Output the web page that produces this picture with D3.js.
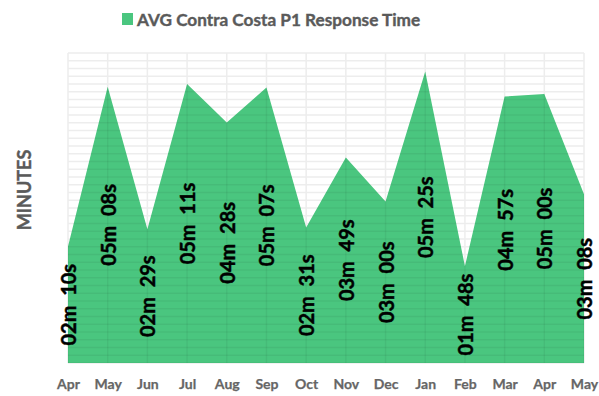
<!DOCTYPE html>
<html>
<head>
<meta charset="utf-8">
<script src="https://cdn.jsdelivr.net/npm/d3@7/dist/d3.min.js"></script>
<style>
  html, body { margin: 0; padding: 0; background: #fff; }
  svg { display: block; }
  text { font-family: Lato, "Open Sans", "DejaVu Sans", sans-serif; }
</style>
</head>
<body>
<svg id="chart" width="599" height="396"></svg>
<script>
// Monthly average P1 response time, in seconds
const months = ["Apr", "May", "Jun", "Jul", "Aug", "Sep", "Oct", "Nov", "Dec", "Jan", "Feb", "Mar", "Apr", "May"];
const responseSeconds = [130, 308, 149, 311, 268, 307, 151, 229, 180, 325, 108, 297, 300, 188];
const seriesName = "AVG Contra Costa P1 Response Time";
const axisTitle = "MINUTES";
// Value axis runs in fractions of a day: 0.0001 day per gridline, up to 0.004 day
const gridStepSeconds = 8.64;
const axisMaxSeconds = 345.6;

const green = "#4ac67f";
const svg = d3.select("#chart");
const margin = { left: 68, right: 15, top: 53, bottom: 33 };
const W = 599, H = 396;

const keys = months.map((m, i) => i);
const x = d3.scalePoint().domain(keys).range([margin.left, W - margin.right]).padding(0);
const y = d3.scaleLinear().domain([0, axisMaxSeconds]).range([H - margin.bottom, margin.top]);

const fmt = s => {
  const m = Math.floor(s / 60), r = s % 60;
  return String(m).padStart(2, "0") + "m  " + String(r).padStart(2, "0") + "s";
};

const hTicks = d3.range(0, axisMaxSeconds + 0.001, gridStepSeconds);

function drawGrid(g, color, opacity) {
  g.selectAll("line.h").data(hTicks).enter().append("line")
    .attr("class", "h")
    .attr("x1", x(0)).attr("x2", x(keys.length - 1))
    .attr("y1", d => y(d)).attr("y2", d => y(d))
    .attr("stroke", color).attr("stroke-opacity", opacity).attr("stroke-width", 1.5);
  g.selectAll("line.v").data(keys).enter().append("line")
    .attr("class", "v")
    .attr("x1", d => x(d)).attr("x2", d => x(d))
    .attr("y1", y(0)).attr("y2", y(axisMaxSeconds))
    .attr("stroke", color).attr("stroke-opacity", opacity).attr("stroke-width", 1.5);
}

// gridlines on the white background
drawGrid(svg.append("g"), "#ededed", 1);

// area
const area = d3.area()
  .x((d, i) => x(i))
  .y0(y(0))
  .y1(d => y(d));
const areaPath = area(responseSeconds);
svg.append("path")
  .attr("d", areaPath)
  .attr("fill", green);

// gridlines showing faintly through the filled area
svg.append("clipPath").attr("id", "areaClip")
  .append("path").attr("d", areaPath);
drawGrid(svg.append("g").attr("clip-path", "url(#areaClip)"), "#000", 0.05);

// value labels, centered vertically within each column of the area
svg.append("g").selectAll("text").data(responseSeconds).enter().append("text")
  .attr("transform", (d, i) => `translate(${x(i)},${y(d / 2)}) rotate(-90)`)
  .attr("text-anchor", "middle")
  .attr("dominant-baseline", "central")
  .attr("font-size", 20)
  .attr("font-weight", 700)
  .attr("fill", "#000")
  .attr("stroke", "#000")
  .attr("stroke-width", 0.45)
  .style("white-space", "pre")
  .text(d => fmt(d));

// category axis
const xAxis = d3.axisBottom(x).tickSize(0).tickFormat(i => months[i]);
const gx = svg.append("g")
  .attr("transform", `translate(0,${y(0)})`)
  .call(xAxis);
gx.select(".domain").remove();
gx.selectAll("text")
  .attr("dy", null)
  .attr("y", 22)
  .attr("dominant-baseline", "middle")
  .attr("font-family", "Lato, sans-serif")
  .attr("font-size", 14)
  .attr("font-weight", 700)
  .attr("fill", "#666")
  .attr("stroke", "#666")
  .attr("stroke-width", 0.25);

// axis title
svg.append("text")
  .attr("transform", "translate(24,190) rotate(-90)")
  .attr("text-anchor", "middle")
  .attr("dominant-baseline", "central")
  .attr("font-size", 18)
  .attr("font-weight", 700)
  .attr("fill", "#5a5a5a")
  .attr("stroke", "#5a5a5a")
  .attr("stroke-width", 0.4)
  .text(axisTitle);

// legend
const legend = svg.append("g");
legend.append("rect")
  .attr("x", 122).attr("y", 13).attr("width", 11).attr("height", 12)
  .attr("fill", green);
legend.append("text")
  .attr("x", 137).attr("y", 25.5)
  .attr("font-size", 17.2)
  .attr("font-weight", 700)
  .attr("fill", "#5a5a5a")
  .attr("stroke", "#5a5a5a")
  .attr("stroke-width", 0.4)
  .text(seriesName);
</script>
</body>
</html>
